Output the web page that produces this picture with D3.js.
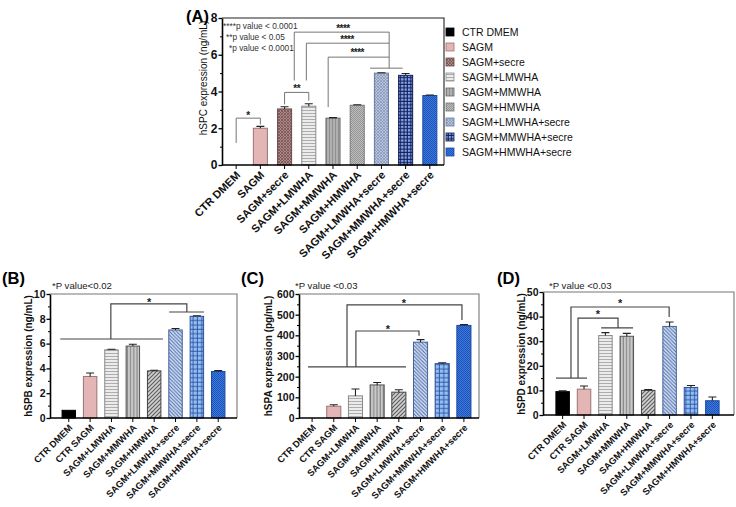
<!DOCTYPE html>
<html><head><meta charset="utf-8">
<script src="https://cdn.jsdelivr.net/npm/d3@7"></script>
<style>
body{margin:0;background:#fff}
svg{display:block}
text{font-family:"Liberation Sans",Arial,Helvetica,sans-serif}
</style>
</head><body>
<svg id="chart" width="736" height="507"></svg>
<script>
// ---------------- DATA ----------------
const categoriesA = ["CTR DMEM","SAGM","SAGM+secre","SAGM+LMWHA","SAGM+MMWHA","SAGM+HMWHA","SAGM+LMWHA+secre","SAGM+MMWHA+secre","SAGM+HMWHA+secre"];
const valuesA = [0, 2.0, 3.05, 3.2, 2.55, 3.25, 5.0, 4.88, 3.78];
const errorsA = [0, 0.1, 0.12, 0.13, 0.03, 0.03, 0.02, 0.1, 0.03];

const categoriesBCD = ["CTR DMEM","CTR SAGM","SAGM+LMWHA","SAGM+MMWHA","SAGM+HMWHA","SAGM+LMWHA+secre","SAGM+MMWHA+secre","SAGM+HMWHA+secre"];
const valuesB = [0.62, 3.35, 5.5, 5.8, 3.8, 7.1, 8.2, 3.75];
const errorsB = [0, 0.28, 0.05, 0.15, 0.05, 0.12, 0.05, 0.07];
const valuesC = [0, 57, 107, 160, 125, 367, 263, 448];
const errorsC = [0, 7, 33, 12, 12, 12, 4, 4];
const valuesD = [9.5, 10.5, 32.3, 32.0, 10.0, 36.0, 11.2, 5.8];
const errorsD = [0.3, 1.3, 1.2, 1.2, 0.3, 1.8, 0.8, 1.5];

const ticksA = [0, 2, 4, 6, 8];
const ticksB = [0, 2, 4, 6, 8, 10];
const ticksC = [0, 100, 200, 300, 400, 500, 600];
const ticksD = [0, 10, 20, 30, 40, 50];

const pNotesA = ["****p value < 0.0001", "**p value < 0.05", "*p value < 0.0001"];
const pNoteB = "*P value<0.02";
const pNoteC = "*P value <0.03";
const pNoteD = "*P value <0.03";

// significance brackets: [category index, value]
const bracketsA = [
  {pts:[[0,1.2],[0,2.55],[1,2.55],[1,2.2]], star:"*", at:[0.49,2.85]},
  {pts:[[2,3.3],[2,3.95],[3,3.95],[3,3.5]], star:"**", at:[2.5,4.3]},
  {pts:[[2.4,4.6],[2.4,7.23],[6.32,7.23],[6.32,5.27]], star:"****", at:[4.41,7.55]},
  {pts:[[2.9,4.6],[2.9,6.63],[6.32,6.63]], star:"****", at:[4.58,6.95]},
  {pts:[[3.8,3.15],[3.8,5.87],[6.32,5.87]], star:"****", at:[5.0,6.25]},
  {pts:[[5.53,5.27],[6.88,5.27]]}
];
const bracketsB = [
  {pts:[[-0.4,6.37],[4.41,6.37]]},
  {pts:[[1.97,6.37],[1.97,9.2],[5.53,9.2],[5.53,8.55]], star:"*", at:[3.76,9.55]},
  {pts:[[4.7,8.55],[6.33,8.55]]}
];
const bracketsC = [
  {pts:[[-0.19,247],[4.33,247]]},
  {pts:[[2.02,247],[2.02,421],[4.93,421],[4.93,398]], star:"*", at:[3.5,443]},
  {pts:[[1.61,247],[1.61,547],[6.91,547],[6.91,474]], star:"*", at:[4.23,568]}
];
const bracketsD = [
  {pts:[[-0.31,15],[1.14,15]]},
  {pts:[[0.39,15],[0.39,43.9],[4.98,43.9],[4.98,39.8]], star:"*", at:[2.69,46.5]},
  {pts:[[0.72,15],[0.72,39.4],[2.59,39.4],[2.59,35.4]], star:"*", at:[1.65,42.2]},
  {pts:[[1.8,35.4],[3.29,35.4]]}
];

const styleKeysA = ["dmem","sagm","secre","lm","mmA","hmA","lmsA","mmsA","hms"];
const styleKeysBCD = ["dmem","sagm","lm","mm","hm","lms","mms","hms"];

// ---------------- PATTERNS ----------------
const svg = d3.select("#chart");
const defs = svg.append("defs");
function pat(id, w, h, base, draw){
  const p = defs.append("pattern").attr("id", id).attr("patternUnits","userSpaceOnUse")
    .attr("width", w).attr("height", h);
  p.append("rect").attr("width", w).attr("height", h).attr("fill", base);
  if (draw) draw(p);
}
function lines(p, d, color, sw){ p.append("path").attr("d", d).attr("stroke", color).attr("stroke-width", sw).attr("fill","none"); }
function diagUp(s){ return `M0,${s} L${s},0 M${-s/2},${s/2} L${s/2},${-s/2} M${s/2},${s*1.5} L${s*1.5},${s/2}`; }
function diagDown(s){ return `M0,0 L${s},${s} M${-s/2},${s/2} L${s/2},${s*1.5} M${s/2},${-s/2} L${s*1.5},${s/2}`; }

pat("p-secre", 3, 3, "#b08a8a", p => { lines(p, diagUp(3), "#74504f", 0.8); lines(p, diagDown(3), "#74504f", 0.8); });
pat("p-lm", 3, 3, "#ececec", p => lines(p, "M0,2.5 L3,2.5", "#a5a5a5", 0.9));
pat("p-mmA", 3, 3, "#b0b0b0", p => lines(p, "M2.5,0 L2.5,3", "#8c8c8c", 0.9));
pat("p-mm", 3.2, 3.2, "#c9c9c9", p => lines(p, "M2.6,0 L2.6,3.2", "#7c7c7c", 1));
pat("p-hmA", 2, 2, "#bdbdbd", p => { p.append("rect").attr("width",1).attr("height",1).attr("fill","#959595"); p.append("rect").attr("x",1).attr("y",1).attr("width",1).attr("height",1).attr("fill","#959595"); });
pat("p-hm", 4, 4, "#d2d2d2", p => lines(p, diagUp(4), "#5f5f5f", 1.2));
pat("p-lmsA", 3, 3, "#b6c3da", p => { lines(p, diagUp(3), "#8494b8", 0.7); lines(p, diagDown(3), "#8494b8", 0.7); });
pat("p-lms", 3.6, 3.6, "#d6e1f3", p => lines(p, diagDown(3.6), "#4f6fae", 1.1));
pat("p-mmsA", 3.4, 3.4, "#86a8ec", p => lines(p, "M0,2.8 L3.4,2.8 M2.8,0 L2.8,3.4", "#121c55", 1.1));
pat("p-mms", 4.4, 4.4, "#93c0f4", p => lines(p, "M0,3.8 L4.4,3.8 M3.8,0 L3.8,4.4", "#2d4f9e", 0.9));
pat("p-hms", 2, 2, "#3b7ae0", p => { p.append("rect").attr("width",1).attr("height",1).attr("fill","#1f52b4"); p.append("rect").attr("x",1).attr("y",1).attr("width",1).attr("height",1).attr("fill","#1f52b4"); });

const fills = {
  dmem: "#000000", sagm: "#e3b5b5", secre: "url(#p-secre)", lm: "url(#p-lm)", mmA: "url(#p-mmA)",
  mm: "url(#p-mm)", hmA: "url(#p-hmA)", hm: "url(#p-hm)", lmsA: "url(#p-lmsA)", lms: "url(#p-lms)",
  mmsA: "url(#p-mmsA)", mms: "url(#p-mms)", hms: "url(#p-hms)"
};
const strokes = {
  dmem: "#000", sagm: "#9b7373", secre: "#6b4a4a", lm: "#8a8a8a", mmA: "#666", mm: "#555",
  hmA: "#777", hm: "#444", lmsA: "#6a7aa0", lms: "#44609a", mmsA: "#101a50", mms: "#2d4f9e", hms: "#1a4aa6"
};

// ---------------- PANEL ----------------
function panel(o){
  const g = svg.append("g");
  const x = d3.scaleBand().domain(o.cats).range(o.band).paddingInner(o.pi).paddingOuter(o.po);
  const y = d3.scaleLinear().domain([0, o.max]).range([o.fy1, o.fy0]);
  const xi = i => x(o.cats[0]) + x.bandwidth()/2 + i * x.step();

  // frame top/right
  g.append("path").attr("d", `M${o.fx0},${o.fy0} H${o.fx1} V${o.fy1}`)
    .attr("fill","none").attr("stroke", o.frameColor).attr("stroke-width", 1.1);

  // bars
  o.cats.forEach((c, i) => {
    const v = o.values[i];
    if (v <= 0) return;
    const k = o.keys[i];
    g.append("rect").attr("x", x(c)).attr("width", x.bandwidth())
      .attr("y", y(v)).attr("height", y(0) - y(v))
      .attr("fill", fills[k]).attr("stroke", strokes[k]).attr("stroke-width", 1);
    const e = o.errors[i];
    if (e > 0) {
      const cx = x(c) + x.bandwidth()/2;
      g.append("path").attr("d", `M${cx},${y(v)} V${y(v+e)} M${cx-4},${y(v+e)} H${cx+4}`)
        .attr("stroke", "#222").attr("stroke-width", 1.1).attr("fill","none");
    }
  });

  // minor ticks
  g.append("g").attr("transform", `translate(${o.fx0},0)`)
    .call(d3.axisLeft(y).tickValues(o.minor).tickSize(2).tickFormat(""))
    .call(s => s.select(".domain").remove())
    .selectAll("line").attr("stroke","#000");
  // y axis
  const ya = g.append("g").attr("transform", `translate(${o.fx0},0)`)
    .call(d3.axisLeft(y).tickValues(o.ticks).tickSize(3.5).tickSizeOuter(0).tickPadding(1));
  ya.select(".domain").attr("stroke","#000").attr("stroke-width",1.6);
  ya.selectAll(".tick line").attr("stroke","#000").attr("stroke-width",1.3);
  ya.selectAll("text").attr("font-size", o.tickFont).attr("font-weight","bold").attr("fill","#111")
    .style("font-family",'"Liberation Sans",Arial,sans-serif');

  // x axis
  const xa = g.append("g").attr("transform", `translate(0,${o.fy1})`)
    .call(d3.axisBottom(x).tickSize(4).tickSizeOuter(0));
  xa.select(".domain").attr("d", `M${o.fx0},0 H${o.fx1}`).attr("stroke","#000").attr("stroke-width",1.6);
  xa.selectAll(".tick line").attr("stroke","#000");
  xa.selectAll("text").attr("font-size", o.labFont).attr("font-weight","bold").attr("fill","#111")
    .attr("text-anchor","end").attr("x",0).attr("y",0).attr("dy","0.35em")
    .attr("transform", `translate(2,${o.labDy}) rotate(-45)`)
    .style("font-family",'"Liberation Sans",Arial,sans-serif');

  // brackets
  o.brackets.forEach(b => {
    const line = d3.line().x(p => xi(p[0])).y(p => y(p[1]));
    g.append("path").attr("d", line(b.pts)).attr("fill","none")
      .attr("stroke", o.brColor).attr("stroke-width", o.brWidth);
    if (b.star) {
      g.append("text").attr("x", xi(b.at[0])).attr("y", y(b.at[1]) + o.starFont*0.6)
        .attr("text-anchor","middle").attr("font-size", o.starFont).attr("font-weight","bold")
        .attr("fill","#222").attr("letter-spacing", o.starSpacing || 0).text(b.star);
    }
  });

  // axis title
  g.append("text").attr("transform", `translate(${o.titleX},${o.titleY}) rotate(-90)`)
    .attr("text-anchor","middle").attr("dy","0.35em").attr("font-size", o.titleFont)
    .attr("font-weight", o.titleWeight).attr("fill","#111").text(o.title);

  // panel letter
  g.append("text").attr("x", o.letterX).attr("y", o.letterY).attr("font-size", 16.5)
    .attr("font-weight","bold").attr("fill","#000").text(o.letter);
  return {g, x, y};
}

// ---------------- PANEL A ----------------
panel({
  cats: categoriesA, values: valuesA, errors: errorsA, keys: styleKeysA,
  band: [222, 444], pi: 0.42, po: 0.295, max: 8,
  fx0: 222, fx1: 444, fy0: 18, fy1: 165, frameColor: "#222",
  ticks: ticksA, minor: [1,3,5,7], tickFont: 12, labFont: 11, labDy: 8,
  brackets: bracketsA, brColor: "#666", brWidth: 0.9, starFont: 10, starSpacing: -0.5,
  title: "hSPC expression (ng/mL)", titleX: 203, titleY: 78, titleFont: 10, titleWeight: "normal",
  letter: "(A)", letterX: 186, letterY: 22
});
pNotesA.forEach((t, i) => {
  svg.append("text").attr("x", [223, 226, 229][i]).attr("y", 29 + i*11)
    .attr("font-size", 8.3).attr("fill","#333").text(t);
});

// legend
const legend = svg.append("g");
categoriesA.forEach((c, i) => {
  const yy = 32 + i * 15;
  const k = styleKeysA[i];
  legend.append("rect").attr("x", 446).attr("y", yy - 4).attr("width", 8).attr("height", 8)
    .attr("fill", fills[k]).attr("stroke", strokes[k]).attr("stroke-width", 0.8);
  legend.append("text").attr("x", 462).attr("y", yy).attr("dy","0.35em")
    .attr("font-size", 10.5).attr("fill","#111").text(c);
});

// ---------------- PANEL B ----------------
panel({
  cats: categoriesBCD, values: valuesB, errors: errorsB, keys: styleKeysBCD,
  band: [50, 237], pi: 0.37, po: 0.565, max: 10,
  fx0: 50, fx1: 237, fy0: 294, fy1: 418, frameColor: "#777",
  ticks: ticksB, minor: [1,3,5,7,9], tickFont: 10.5, labFont: 9.3, labDy: 8,
  brackets: bracketsB, brColor: "#444", brWidth: 1.2, starFont: 11,
  title: "hSPB expression (ng/mL)", titleX: 28, titleY: 356, titleFont: 10, titleWeight: "bold",
  letter: "(B)", letterX: 2, letterY: 284
});
svg.append("text").attr("x", 52).attr("y", 289).attr("font-size", 9.6).attr("fill","#222").text(pNoteB);

// ---------------- PANEL C ----------------
panel({
  cats: categoriesBCD, values: valuesC, errors: errorsC, keys: styleKeysBCD,
  band: [298, 478], pi: 0.35, po: 0.325, max: 600,
  fx0: 299, fx1: 479, fy0: 294, fy1: 418, frameColor: "#777",
  ticks: ticksC, minor: [50,150,250,350,450,550], tickFont: 10.5, labFont: 9.3, labDy: 8,
  brackets: bracketsC, brColor: "#444", brWidth: 1.2, starFont: 11,
  title: "hSPA expression (pg/mL)", titleX: 268, titleY: 356, titleFont: 10, titleWeight: "bold",
  letter: "(C)", letterX: 241, letterY: 284
});
svg.append("text").attr("x", 295).attr("y", 289).attr("font-size", 9.6).attr("fill","#222").text(pNoteC);

// ---------------- PANEL D ----------------
panel({
  cats: categoriesBCD, values: valuesD, errors: errorsD, keys: styleKeysBCD,
  band: [542, 733], pi: 0.37, po: 0.65, max: 50,
  fx0: 543, fx1: 734, fy0: 292, fy1: 415, frameColor: "#777",
  ticks: ticksD, minor: [5,15,25,35,45], tickFont: 10.5, labFont: 9.3, labDy: 8,
  brackets: bracketsD, brColor: "#444", brWidth: 1.2, starFont: 11,
  title: "hSPD expression (ng/mL)", titleX: 521, titleY: 354, titleFont: 10, titleWeight: "bold",
  letter: "(D)", letterX: 497, letterY: 284
});
svg.append("text").attr("x", 549).attr("y", 289).attr("font-size", 9.6).attr("fill","#222").text(pNoteD);
</script>
</body></html>
